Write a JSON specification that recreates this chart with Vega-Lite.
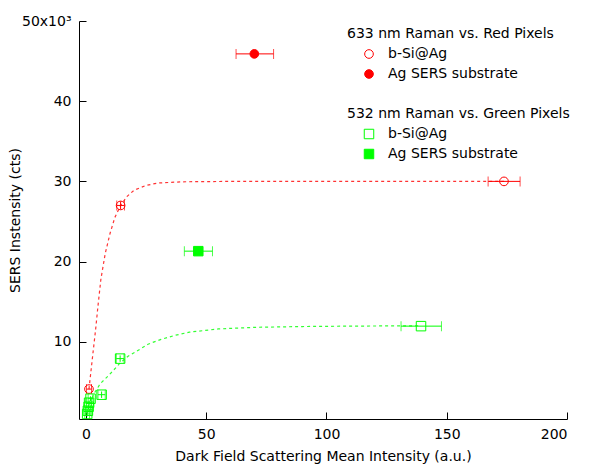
{
  "$schema": "https://vega.github.io/schema/vega-lite/v6.json",
  "autosize": {"type": "none"},
  "width": 488,
  "height": 398,
  "padding": {"left": 79, "top": 21, "right": 22, "bottom": 48},
  "background": "white",
  "config": {
    "font": "DejaVu Sans",
    "view": {"stroke": null},
    "axis": {
      "grid": false,
      "domainColor": "#000000",
      "domainWidth": 1,
      "tickColor": "#000000",
      "tickWidth": 1,
      "tickSize": -7,
      "labelFontSize": 14,
      "labelColor": "#000000",
      "titleFontSize": 14,
      "titleFontWeight": "normal",
      "titleColor": "#000000",
      "labelFont": "DejaVu Sans",
      "titleFont": "DejaVu Sans"
    },
    "legend": {
      "labelFont": "DejaVu Sans",
      "titleFont": "DejaVu Sans",
      "labelFontSize": 14,
      "titleFontSize": 14,
      "titleFontWeight": "normal",
      "titleColor": "#000000",
      "labelColor": "#000000",
      "titleLimit": 300,
      "labelLimit": 300
    }
  },
  "datasets": {
    "points": [
      {"series": "red", "type": "b-Si@Ag", "x": 1.25, "y": 4100, "xlo": 0.2, "xhi": 2.3, "ylo": null, "yhi": null},
      {"series": "red", "type": "b-Si@Ag", "x": 14.4, "y": 27000, "xlo": 12.8, "xhi": 16.0, "ylo": 26500, "yhi": 27500},
      {"series": "red", "type": "b-Si@Ag", "x": 173.8, "y": 30000, "xlo": 167.2, "xhi": 180.5, "ylo": null, "yhi": null},
      {"series": "red", "type": "Ag SERS substrate", "x": 70.0, "y": 45900, "xlo": 62.4, "xhi": 78.0, "ylo": null, "yhi": null},
      {"series": "green", "type": "b-Si@Ag", "x": 0.5, "y": 1000, "xlo": -0.5, "xhi": 1.5, "ylo": 700, "yhi": 1300},
      {"series": "green", "type": "b-Si@Ag", "x": 0.8, "y": 1400, "xlo": -0.2, "xhi": 1.8, "ylo": 1100, "yhi": 1700},
      {"series": "green", "type": "b-Si@Ag", "x": 1.1, "y": 1900, "xlo": 0.1, "xhi": 2.1, "ylo": 1600, "yhi": 2200},
      {"series": "green", "type": "b-Si@Ag", "x": 1.3, "y": 2400, "xlo": 0.3, "xhi": 2.3, "ylo": 2100, "yhi": 2700},
      {"series": "green", "type": "b-Si@Ag", "x": 1.9, "y": 2900, "xlo": 0.9, "xhi": 2.9, "ylo": 2600, "yhi": 3200},
      {"series": "green", "type": "b-Si@Ag", "x": 6.5, "y": 3400, "xlo": 5.0, "xhi": 8.0, "ylo": 3000, "yhi": 3800},
      {"series": "green", "type": "b-Si@Ag", "x": 14.2, "y": 7900, "xlo": 12.6, "xhi": 15.8, "ylo": 7500, "yhi": 8300},
      {"series": "green", "type": "b-Si@Ag", "x": 139.3, "y": 11950, "xlo": 131.0, "xhi": 147.8, "ylo": null, "yhi": null},
      {"series": "green", "type": "Ag SERS substrate", "x": 46.7, "y": 21300, "xlo": 40.9, "xhi": 52.6, "ylo": null, "yhi": null}
    ],
    "curves": [
      {"series": "red", "x": 1.25, "y": 4100},
      {"series": "red", "x": 2.5, "y": 7500},
      {"series": "red", "x": 4, "y": 11500},
      {"series": "red", "x": 5, "y": 14500},
      {"series": "red", "x": 6.2, "y": 17800},
      {"series": "red", "x": 8, "y": 21000},
      {"series": "red", "x": 10, "y": 23500},
      {"series": "red", "x": 12, "y": 25500},
      {"series": "red", "x": 14.4, "y": 27000},
      {"series": "red", "x": 17, "y": 28100},
      {"series": "red", "x": 20, "y": 28900},
      {"series": "red", "x": 25, "y": 29500},
      {"series": "red", "x": 30, "y": 29800},
      {"series": "red", "x": 40, "y": 29950},
      {"series": "red", "x": 60, "y": 30000},
      {"series": "red", "x": 100, "y": 30000},
      {"series": "red", "x": 140, "y": 30000},
      {"series": "red", "x": 173.8, "y": 30000},
      {"series": "green", "x": 2.5, "y": 3000},
      {"series": "green", "x": 3.7, "y": 3700},
      {"series": "green", "x": 6, "y": 4800},
      {"series": "green", "x": 9.1, "y": 5700},
      {"series": "green", "x": 11.3, "y": 6400},
      {"series": "green", "x": 14, "y": 7300},
      {"series": "green", "x": 17.5, "y": 8200},
      {"series": "green", "x": 20.4, "y": 8700},
      {"series": "green", "x": 25.8, "y": 9700},
      {"series": "green", "x": 31.2, "y": 10300},
      {"series": "green", "x": 37, "y": 10800},
      {"series": "green", "x": 43, "y": 11200},
      {"series": "green", "x": 49, "y": 11400},
      {"series": "green", "x": 55, "y": 11600},
      {"series": "green", "x": 70, "y": 11800},
      {"series": "green", "x": 90, "y": 11900},
      {"series": "green", "x": 110, "y": 11950},
      {"series": "green", "x": 139.3, "y": 12000}
    ]
  },
  "layer": [
    {
      "data": {"name": "curves"},
      "mark": {"type": "line", "strokeWidth": 1.2, "strokeDash": [3, 3], "opacity": 0.8, "clip": true},
      "encoding": {
        "x": {"field": "x", "type": "quantitative", "scale": {"domain": [-2.9, 200], "nice": false, "zero": false},
              "axis": {"values": [0, 50, 100, 150, 200], "labelPadding": 15, "title": "Dark Field Scattering Mean Intensity (a.u.)", "titlePadding": 8}},
        "y": {"field": "y", "type": "quantitative", "scale": {"domain": [370, 50000], "nice": false, "zero": false},
              "axis": {"values": [10000, 20000, 30000, 40000, 50000], "labelPadding": 15, "labelExpr": "datum.value == 50000 ? '50x10³' : format(datum.value / 1000, 'd')", "title": "SERS Instensity (cts)", "titlePadding": -1}},
        "color": {"field": "series", "type": "nominal", "scale": {"domain": ["red", "green"], "range": ["#ff0000", "#00ff00"]}, "legend": null},
        "detail": {"field": "series"}
      }
    },
    {
      "data": {"name": "points"},
      "mark": {"type": "rule", "strokeWidth": 1},
      "encoding": {
        "x": {"field": "xlo", "type": "quantitative"},
        "x2": {"field": "xhi"},
        "y": {"field": "y", "type": "quantitative"},
        "color": {"field": "series", "type": "nominal", "legend": null}
      }
    },
    {
      "data": {"name": "points"},
      "mark": {"type": "tick", "orient": "vertical", "size": 10, "thickness": 1},
      "encoding": {
        "x": {"field": "xlo", "type": "quantitative"},
        "y": {"field": "y", "type": "quantitative"},
        "color": {"field": "series", "type": "nominal", "legend": null}
      }
    },
    {
      "data": {"name": "points"},
      "mark": {"type": "tick", "orient": "vertical", "size": 10, "thickness": 1},
      "encoding": {
        "x": {"field": "xhi", "type": "quantitative"},
        "y": {"field": "y", "type": "quantitative"},
        "color": {"field": "series", "type": "nominal", "legend": null}
      }
    },
    {
      "data": {"name": "points"},
      "mark": {"type": "rule", "strokeWidth": 1},
      "encoding": {
        "x": {"field": "x", "type": "quantitative"},
        "y": {"field": "ylo", "type": "quantitative"},
        "y2": {"field": "yhi"},
        "color": {"field": "series", "type": "nominal", "legend": null}
      }
    },
    {
      "data": {"name": "points"},
      "transform": [{"filter": "datum.series == 'red'"}],
      "mark": {"type": "point", "shape": "circle", "filled": true, "stroke": "#ff0000", "strokeWidth": 1, "size": 75, "opacity": 1},
      "encoding": {
        "x": {"field": "x", "type": "quantitative"},
        "y": {"field": "y", "type": "quantitative"},
        "fill": {"field": "type", "type": "nominal",
                 "scale": {"domain": ["b-Si@Ag", "Ag SERS substrate"], "range": ["transparent", "#ff0000"]},
                 "legend": {"title": "633 nm Raman vs. Red Pixels", "orient": "none", "legendX": 268, "legendY": 6,
                            "symbolOffset": 15, "symbolType": "circle", "symbolSize": 75, "symbolStrokeColor": "#ff0000", "symbolStrokeWidth": 1,
                            "titlePadding": 6, "rowPadding": 6, "labelOffset": 12}}
      }
    },
    {
      "data": {"name": "points"},
      "transform": [{"filter": "datum.series == 'green'"}],
      "mark": {"type": "point", "shape": "square", "filled": true, "stroke": "#00ff00", "strokeWidth": 1, "size": 90, "opacity": 1},
      "encoding": {
        "x": {"field": "x", "type": "quantitative"},
        "y": {"field": "y", "type": "quantitative"},
        "fill": {"field": "type", "type": "nominal",
                 "scale": {"domain": ["b-Si@Ag", "Ag SERS substrate"], "range": ["transparent", "#00ff00"]},
                 "legend": {"title": "532 nm Raman vs. Green Pixels", "orient": "none", "legendX": 268, "legendY": 86,
                            "symbolOffset": 15, "symbolType": "square", "symbolSize": 90, "symbolStrokeColor": "#00ff00", "symbolStrokeWidth": 1,
                            "titlePadding": 6, "rowPadding": 6, "labelOffset": 12}}
      }
    }
  ],
  "resolve": {"scale": {"fill": "independent"}, "legend": {"fill": "independent"}}
}
